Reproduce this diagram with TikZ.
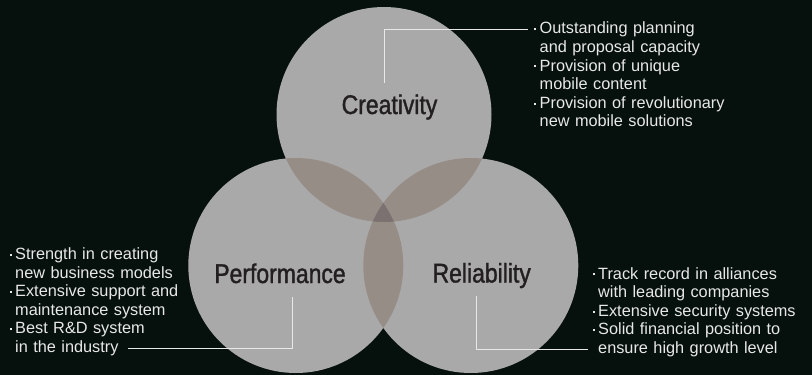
\documentclass[tikz,border=0pt]{standalone}
\usepackage{fontspec}
\setmainfont{Liberation Sans}
\newfontfamily\condfont[FakeStretch=0.85,FakeBold=1.3]{Liberation Sans}
\definecolor{bgdark}{RGB}{6,17,14}
\definecolor{disc}{RGB}{169,169,169}
\definecolor{lens}{RGB}{151,141,135}
\definecolor{core}{RGB}{123,113,112}
\definecolor{ink}{RGB}{35,31,32}
\definecolor{note}{RGB}{232,232,232}
\newcommand\pnt{\makebox[7pt][l]{\hspace{1.6pt}\raisebox{3.6pt}{\rule{2.1pt}{2.1pt}}}}
\newcommand\ind{\hspace*{7pt}}

\begin{document}
\begin{tikzpicture}[x=1pt,y=-1pt,
  title/.style={font=\condfont\fontsize{27}{30}\selectfont,text=ink,inner sep=0,anchor=base},
  notes/.style={font=\fontsize{16.3}{18.6}\selectfont,text=note,inner sep=0,anchor=base west,text width=220pt,align=left},
  leader/.style={draw=note,line width=1pt}]
\fill[bgdark] (0,0) rectangle (812,375);
\useasboundingbox (0,0) rectangle (812,375);
% the three discs
\def\rr{107.5}
\coordinate (ctop) at (384,114.5);
\coordinate (cleft) at (295.8,265.5);
\coordinate (cright) at (470.8,265.5);
\fill[disc] (ctop) circle (\rr) (cleft) circle (\rr) (cright) circle (\rr);
% overlaps
\begin{scope}
\clip (ctop) circle (\rr);
\fill[lens] (cleft) circle (\rr) (cright) circle (\rr);
\end{scope}
\begin{scope}
\clip (cleft) circle (\rr);
\fill[lens] (cright) circle (\rr);
\end{scope}
\begin{scope}
\clip (ctop) circle (\rr);
\clip (cleft) circle (\rr);
\fill[core] (cright) circle (\rr);
\end{scope}
% titles
\node[title] (crea) at (389.5,114) {Creativity};
\node[title] (perf) at (280,283) {Performance};
\node[title] (reli) at (481.7,282.5) {Reliability};
% notes
\node[notes] (crealist) at (532.5,33.8) {\pnt Outstanding planning\\\ind and proposal capacity\\\pnt Provision of unique\\\ind mobile content\\\pnt Provision of revolutionary\\\ind new mobile solutions};
\node[notes] (perflist) at (8,259.5) {\pnt Strength in creating\\\ind new business models\\\pnt Extensive support and\\\ind maintenance system\\\pnt Best R\&D system\\\ind in the industry};
\node[notes] (relilist) at (591,279) {\pnt Track record in alliances\\\ind with leading companies\\\pnt Extensive security systems\\\pnt Solid financial position to\\\ind ensure high growth level};
% leaders
\coordinate (creafoot) at (384.5,83);
\coordinate (creatip) at (527.5,29.5);
\coordinate (perffoot) at (292,297);
\coordinate (perftip) at (128,348);
\coordinate (relifoot) at (476,296);
\coordinate (relitip) at (588,349);
\draw[leader] (creafoot) |- (creatip);
\draw[leader] (perffoot) |- (perftip);
\draw[leader] (relifoot) |- (relitip);
\end{tikzpicture}
\end{document}
